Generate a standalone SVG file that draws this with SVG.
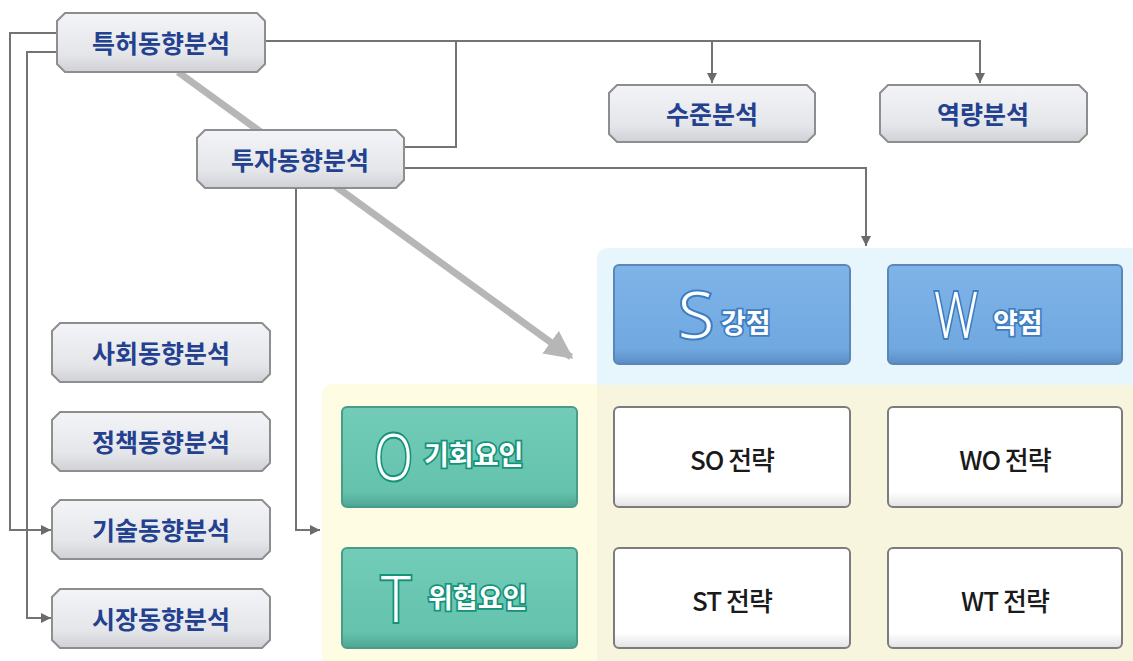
<svg xmlns="http://www.w3.org/2000/svg" width="1133" height="661" viewBox="0 0 1133 661">
<defs>
<linearGradient id="gNode" x1="0" y1="0" x2="0" y2="1">
<stop offset="0" stop-color="#f3f4f7"/><stop offset="0.7" stop-color="#e4e6ea"/><stop offset="1" stop-color="#cfd1d6"/>
</linearGradient>
<linearGradient id="gBlue" x1="0" y1="0" x2="0" y2="1">
<stop offset="0" stop-color="#7fb4e8"/><stop offset="0.85" stop-color="#70a8e0"/><stop offset="1" stop-color="#5a8cc4"/>
</linearGradient>
<linearGradient id="gGreen" x1="0" y1="0" x2="0" y2="1">
<stop offset="0" stop-color="#72ccb8"/><stop offset="0.85" stop-color="#64c2ad"/><stop offset="1" stop-color="#4fa592"/>
</linearGradient>
<linearGradient id="gWhite" x1="0" y1="0" x2="0" y2="1">
<stop offset="0" stop-color="#ffffff"/><stop offset="0.85" stop-color="#ffffff"/><stop offset="1" stop-color="#e2e2e2"/>
</linearGradient>
<marker id="arr" viewBox="0 0 10 10" refX="10" refY="5" markerWidth="10" markerHeight="10" markerUnits="userSpaceOnUse" orient="auto">
<path d="M0,0 L10,5 L0,10 z" fill="#6b6b6b"/>
</marker>
<marker id="bigArr" viewBox="0 0 10 10" refX="9" refY="5" markerWidth="4" markerHeight="4" orient="auto">
<path d="M0,0 L10,5 L0,10 z" fill="#b6b6b6"/>
</marker>
<style>
.oct{fill:url(#gNode);stroke:#8e8e8e;stroke-width:2}
.nt{font-family:"Noto Sans CJK KR","Noto Sans",sans-serif;font-weight:700;font-size:25px;fill:#23418f;text-anchor:middle;dominant-baseline:central}
.conn{fill:none;stroke:#737373;stroke-width:2}
.blue{fill:url(#gBlue);stroke:#5b87b8;stroke-width:2}
.green{fill:url(#gGreen);stroke:#4a9c8a;stroke-width:2}
.white{fill:url(#gWhite);stroke:#7c7c7c;stroke-width:2}
.big{font-family:"Noto Sans","DejaVu Sans",sans-serif;font-weight:300;font-size:64px;fill:#ffffff;stroke-width:4;paint-order:stroke}
.kr{font-family:"Noto Sans CJK KR",sans-serif;font-weight:700;font-size:27px;fill:#ffffff;stroke-width:3.5;paint-order:stroke;dominant-baseline:central}
.sb{stroke:#3d7dc2}
.sg{stroke:#14937a}
.st{font-family:"Noto Sans CJK KR","Liberation Sans",sans-serif;font-weight:500;font-size:26px;fill:#1a1a1a;text-anchor:middle;dominant-baseline:central;letter-spacing:-1px}
</style>
</defs>
<rect width="1133" height="661" fill="#ffffff"/>
<g id="panels">
<path d="M609,248 H1133 V385 H597 V260 Q597,248 609,248 Z" fill="#e6f6fc"/>
<path d="M334,384 H597 V661 H322 V396 Q322,384 334,384 Z" fill="#fffce4"/>
<rect x="597" y="385" width="536" height="276" fill="#f8f5de"/>
</g>
<g id="connectors">
<line x1="178" y1="72" x2="571" y2="357" stroke="#b6b6b6" stroke-width="7" marker-end="url(#bigArr)"/>
<path class="conn" d="M265,41 H980 V83" marker-end="url(#arr)"/>
<path class="conn" d="M712,41 V83" marker-end="url(#arr)"/>
<path class="conn" d="M456,41 V147 H404"/>
<path class="conn" d="M404,168 H866 V246" marker-end="url(#arr)"/>
<path class="conn" d="M57,33 H10 V530 H51" marker-end="url(#arr)"/>
<path class="conn" d="M57,52 H27 V618 H51" marker-end="url(#arr)"/>
<path class="conn" d="M296,188 V530 H320" marker-end="url(#arr)"/>
</g>
<g id="n-patent">
<polygon class="oct" points="65,13 257,13 265,21 265,64 257,72 65,72 57,64 57,21"/>
<text class="nt" x="161" y="42">특허동향분석</text>
</g>
<g id="n-invest">
<polygon class="oct" points="205,130 396,130 404,138 404,180 396,188 205,188 197,180 197,138"/>
<text class="nt" x="300" y="159">투자동향분석</text>
</g>
<g id="n-level">
<polygon class="oct" points="617,85 807,85 815,93 815,134 807,142 617,142 609,134 609,93"/>
<text class="nt" x="712" y="113">수준분석</text>
</g>
<g id="n-capa">
<polygon class="oct" points="888,85 1079,85 1087,93 1087,134 1079,142 888,142 880,134 880,93"/>
<text class="nt" x="983" y="113">역량분석</text>
</g>
<g id="n-social">
<polygon class="oct" points="60,323 262,323 270,331 270,374 262,382 60,382 52,374 52,331"/>
<text class="nt" x="161" y="352">사회동향분석</text>
</g>
<g id="n-policy">
<polygon class="oct" points="60,412 262,412 270,420 270,463 262,471 60,471 52,463 52,420"/>
<text class="nt" x="161" y="441">정책동향분석</text>
</g>
<g id="n-tech">
<polygon class="oct" points="60,500 262,500 270,508 270,551 262,559 60,559 52,551 52,508"/>
<text class="nt" x="161" y="529">기술동향분석</text>
</g>
<g id="n-market">
<polygon class="oct" points="60,589 262,589 270,597 270,640 262,648 60,648 52,640 52,597"/>
<text class="nt" x="161" y="618">시장동향분석</text>
</g>
<g id="n-S">
<rect class="blue" x="614" y="265" width="236" height="99" rx="5"/>
<text class="big sb" x="678" y="338" textLength="36" lengthAdjust="spacingAndGlyphs">S</text>
<text class="kr sb" x="721" y="321">강점</text>
</g>
<g id="n-W">
<rect class="blue" x="888" y="265" width="234" height="99" rx="5"/>
<text class="big sb" x="934" y="338" textLength="44" lengthAdjust="spacingAndGlyphs">W</text>
<text class="kr sb" x="993" y="321">약점</text>
</g>
<g id="n-O">
<rect class="green" x="342" y="407" width="235" height="100" rx="5"/>
<text class="big sg" x="374" y="480" textLength="39" lengthAdjust="spacingAndGlyphs">O</text>
<text class="kr sg" x="424" y="453">기회요인</text>
</g>
<g id="n-T">
<rect class="green" x="342" y="548" width="235" height="100" rx="5"/>
<text class="big sg" x="381" y="622" textLength="30" lengthAdjust="spacingAndGlyphs">T</text>
<text class="kr sg" x="428" y="596">위협요인</text>
</g>
<g id="n-SO">
<rect class="white" x="614" y="407" width="236" height="100" rx="5"/>
<text class="st" x="732" y="458">SO 전략</text>
</g>
<g id="n-WO">
<rect class="white" x="888" y="407" width="234" height="100" rx="5"/>
<text class="st" x="1005" y="458">WO 전략</text>
</g>
<g id="n-ST">
<rect class="white" x="614" y="548" width="236" height="100" rx="5"/>
<text class="st" x="732" y="599">ST 전략</text>
</g>
<g id="n-WT">
<rect class="white" x="888" y="548" width="234" height="100" rx="5"/>
<text class="st" x="1005" y="599">WT 전략</text>
</g>
</svg>
